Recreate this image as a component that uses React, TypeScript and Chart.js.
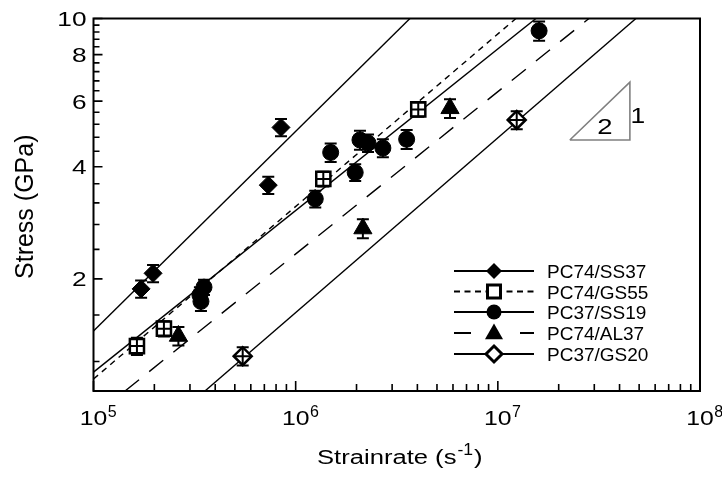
import React, { useEffect, useRef } from "react";
import { Chart, registerables } from "chart.js";

Chart.register(...registerables);

// ---------------- data ----------------
const seriesNames = ["PC74/SS37", "PC74/GS55", "PC37/SS19", "PC74/AL37", "PC37/GS20"];

// strain rate (1/s), stress (GPa), stress error (GPa)
const ss37Rate = [1.72e5, 1.97e5, 7.32e5, 8.46e5];
const ss37Stress = [1.88, 2.07, 3.57, 5.1];
const ss37Err = [0.1, 0.11, 0.19, 0.27];

const gs55Rate = [1.64e5, 2.23e5, 1.37e6, 4.04e6];
const gs55Stress = [1.32, 1.47, 3.71, 5.7];
const gs55Err = [0.07, 0.07, 0.17, 0.25];

const ss19Rate = [3.36e5, 3.4e5, 3.52e5, 1.25e6, 1.49e6, 1.97e6, 2.08e6, 2.28e6, 2.7e6, 3.54e6, 1.6e7];
const ss19Stress = [1.81, 1.74, 1.9, 3.28, 4.37, 3.86, 4.72, 4.63, 4.49, 4.74, 9.27];
const ss19Err = [0.09, 0.1, 0.09, 0.17, 0.25, 0.2, 0.28, 0.25, 0.25, 0.28, 0.55];

const al37Rate = [2.63e5, 2.15e6, 5.8e6];
const al37Stress = [1.405, 2.73, 5.74];
const al37Err = [0.08, 0.16, 0.33];

const gs20Rate = [5.47e5, 1.24e7];
const gs20Stress = [1.24, 5.34];
const gs20Err = [0.07, 0.3];

// fitted power-law lines (end points)
const fitSS37Rate = [1e5, 3.675e6];
const fitSS37Stress = [1.449, 10];
const fitGS55Rate = [1e5, 1.229e7];
const fitGS55Stress = [1.077, 10];
const fitSS19Rate = [1e5, 1.543e7];
const fitSS19Stress = [1.124, 10];
const fitAL37Rate = [1.432e5, 2.823e7];
const fitAL37Stress = [1, 10];
const fitGS20Rate = [3.559e5, 4.82e7];
const fitGS20Stress = [1, 10];

// slope triangle (2 : 1)
const triRate = [2.27e7, 4.5e7, 4.5e7, 2.27e7];
const triStress = [4.72, 4.72, 6.75, 4.72];
const triLabels = ["2", "1"];

// axes
const xMin = 1e5;
const xMax = 1e8;
const yMin = 1;
const yMax = 10;
const xDecades = [1e5, 1e6, 1e7, 1e8];
const xExponents = ["5", "6", "7", "8"];
const xMinorMult = [2, 3, 4, 5, 6, 7, 8, 9];
const yMajor = [2, 4, 6, 8, 10];
const yMajorLabels = ["2", "4", "6", "8", "10"];
const yMinor = [1.2, 1.6, 2.4, 2.8, 3.2, 3.6, 4.4, 4.8, 5.2, 5.6, 6.4, 6.8, 7.2, 7.6, 8.4, 8.8, 9.2, 9.6];
const xTitle = "Strainrate (s";
const xTitleSup = "-1";
const yTitle = "Stress (GPa)";

// ---------------- helpers ----------------
const FONT = '"Liberation Sans", Arial, Helvetica, sans-serif';

function txt(ctx: CanvasRenderingContext2D, s: string, x: number, y: number, size: number, sx: number, align: string) {
  ctx.save();
  ctx.font = `${size}px ${FONT}`;
  ctx.textBaseline = "alphabetic";
  ctx.textAlign = "left";
  const w = ctx.measureText(s).width * sx;
  const x0 = align === "left" ? x : align === "center" ? x - w / 2 : x - w;
  ctx.translate(x0, y);
  ctx.scale(sx, 1);
  ctx.fillStyle = "#000";
  ctx.fillText(s, 0, 0);
  ctx.restore();
  return w;
}

function marker(ctx: CanvasRenderingContext2D, style: string, x: number, y: number, r: number, open: boolean) {
  ctx.save();
  ctx.beginPath();
  if (style === "diamond") {
    ctx.moveTo(x, y - r);
    ctx.lineTo(x + r, y);
    ctx.lineTo(x, y + r);
    ctx.lineTo(x - r, y);
    ctx.closePath();
  } else if (style === "square") {
    ctx.rect(x - r, y - r, 2 * r, 2 * r);
  } else if (style === "circle") {
    ctx.arc(x, y, r, 0, Math.PI * 2);
  } else {
    ctx.moveTo(x, y - r);
    ctx.lineTo(x + r * 0.95, y + r * 0.65);
    ctx.lineTo(x - r * 0.95, y + r * 0.65);
    ctx.closePath();
  }
  if (open) {
    ctx.fillStyle = "#fff";
    ctx.fill();
    ctx.lineWidth = 3;
    ctx.strokeStyle = "#000";
    ctx.stroke();
  } else {
    ctx.fillStyle = "#000";
    ctx.fill();
  }
  ctx.restore();
}

const pts = (xs: number[], ys: number[]) => xs.map((x, i) => ({ x, y: ys[i] }));

export default function App() {
  const ref = useRef<HTMLCanvasElement>(null);

  useEffect(() => {
    const canvas = ref.current!;
    const ctx0 = canvas.getContext("2d")!;

    const markerDs = (label: string, xs: number[], ys: number[], errs: number[], style: any, r: number, open: boolean, hw: number) => ({
      label,
      data: pts(xs, ys),
      errors: errs,
      open,
      hw,
      showLine: false,
      pointStyle: style,
      pointRadius: r,
      pointHoverRadius: r,
      pointBackgroundColor: open ? "#fff" : "#000",
      pointBorderColor: "#000",
      pointBorderWidth: open ? 2.5 : 1,
      backgroundColor: open ? "#fff" : "#000",
      borderColor: "#000",
      order: 0,
    });

    const lineDs = (label: string, xs: number[], ys: number[], dash: number[], color = "#000", width = 1.4) => ({
      label,
      data: pts(xs, ys),
      showLine: true,
      borderColor: color,
      borderWidth: width,
      borderDash: dash,
      pointRadius: 0,
      pointHoverRadius: 0,
      fill: false,
      tension: 0,
      order: 1,
    });

    const datasets: any[] = [
      markerDs(seriesNames[0], ss37Rate, ss37Stress, ss37Err, "rectRot", 9, false, 0),
      markerDs(seriesNames[1], gs55Rate, gs55Stress, gs55Err, "rect", 10, true, 7),
      markerDs(seriesNames[2], ss19Rate, ss19Stress, ss19Err, "circle", 8, false, 0),
      markerDs(seriesNames[3], al37Rate, al37Stress, al37Err, "triangle", 10.5, false, 0),
      markerDs(seriesNames[4], gs20Rate, gs20Stress, gs20Err, "rectRot", 9, true, 8),
      lineDs(seriesNames[0] + " fit", fitSS37Rate, fitSS37Stress, []),
      lineDs(seriesNames[1] + " fit", fitGS55Rate, fitGS55Stress, [6, 5]),
      lineDs(seriesNames[2] + " fit", fitSS19Rate, fitSS19Stress, []),
      lineDs(seriesNames[3] + " fit", fitAL37Rate, fitAL37Stress, [18, 13]),
      lineDs(seriesNames[4] + " fit", fitGS20Rate, fitGS20Stress, []),
      lineDs("slope", triRate, triStress, [], "#808080", 1.6),
    ];

    const legendStyles = ["diamond", "square", "circle", "triangle", "diamond"];
    const legendOpen = [false, true, false, false, true];
    const legendSizes = [8, 6.5, 7.5, 9.5, 8];

    const framePlugin = {
      id: "frame",
      afterDatasetsDraw(chart: any) {
        const ctx: CanvasRenderingContext2D = chart.ctx;
        const a = chart.chartArea;
        const xs = chart.scales.x;
        const ys = chart.scales.y;
        ctx.save();
        ctx.strokeStyle = "#000";
        ctx.lineCap = "butt";

        // error bars
        chart.data.datasets.forEach((ds: any) => {
          if (!ds.errors) return;
          ds.data.forEach((p: any, j: number) => {
            const e = ds.errors[j];
            const px = xs.getPixelForValue(p.x);
            const py = ys.getPixelForValue(p.y);
            const t = ys.getPixelForValue(p.y + e);
            const b = ys.getPixelForValue(p.y - e);
            ctx.lineWidth = 2;
            ctx.beginPath();
            ctx.moveTo(px, t);
            ctx.lineTo(px, b);
            ctx.moveTo(px - 6, t);
            ctx.lineTo(px + 6, t);
            ctx.moveTo(px - 6, b);
            ctx.lineTo(px + 6, b);
            if (ds.open) {
              ctx.moveTo(px - ds.hw, py);
              ctx.lineTo(px + ds.hw, py);
            }
            ctx.stroke();
          });
        });

        // frame
        ctx.lineWidth = 2;
        ctx.strokeRect(a.left, a.top, a.right - a.left, a.bottom - a.top);

        // x ticks (inward)
        ctx.lineWidth = 1.6;
        ctx.beginPath();
        xDecades.forEach((d, i) => {
          const px = xs.getPixelForValue(d);
          ctx.moveTo(px, a.bottom);
          ctx.lineTo(px, a.bottom - 10);
          if (i < xDecades.length - 1) {
            xMinorMult.forEach((m) => {
              const q = xs.getPixelForValue(d * m);
              ctx.moveTo(q, a.bottom);
              ctx.lineTo(q, a.bottom - 7);
            });
          }
        });
        // y ticks
        yMajor.forEach((v) => {
          const py = ys.getPixelForValue(v);
          ctx.moveTo(a.left, py);
          ctx.lineTo(a.left + 9, py);
        });
        yMinor.forEach((v) => {
          const py = ys.getPixelForValue(v);
          ctx.moveTo(a.left, py);
          ctx.lineTo(a.left + 6, py);
        });
        ctx.stroke();

        // x tick labels
        xDecades.forEach((d, i) => {
          const px = xs.getPixelForValue(d);
          const w = txt(ctx, "10", px, a.bottom + 34, 21, 1.18, "center");
          txt(ctx, xExponents[i], px + w / 2 + 0.5, a.bottom + 26, 16, 1.0, "left");
        });
        // y tick labels
        yMajor.forEach((v, i) => {
          const py = ys.getPixelForValue(v);
          txt(ctx, yMajorLabels[i], a.left - 7, py + 7.5, 21, 1.25, "right");
        });

        // x title
        let tx = 317;
        tx += txt(ctx, xTitle, tx, a.bottom + 73, 20, 1.28, "left");
        tx += 1;
        tx += txt(ctx, xTitleSup, tx, a.bottom + 64, 16, 1.1, "left");
        txt(ctx, ")", tx + 1, a.bottom + 73, 20, 1.28, "left");

        // y title
        ctx.save();
        ctx.translate(33, (a.top + a.bottom) / 2 + 2);
        ctx.rotate(-Math.PI / 2);
        ctx.font = `25px ${FONT}`;
        ctx.textAlign = "center";
        ctx.textBaseline = "alphabetic";
        ctx.fillStyle = "#000";
        ctx.fillText(yTitle, 0, 0);
        ctx.restore();

        // slope triangle labels
        const bx = xs.getPixelForValue(triRate[1]);
        const by = ys.getPixelForValue(triStress[1]);
        const ty = ys.getPixelForValue(triStress[2]);
        txt(ctx, triLabels[0], bx - 25, by - 6, 22, 1.25, "center");
        txt(ctx, triLabels[1], bx + 8, (by + ty) / 2 + 12, 22, 1.2, "center");

        // legend
        const lx0 = a.right - 246;
        const lx1 = a.right - 166;
        const mx = a.right - 206;
        const rows = [271, 291.5, 312, 333, 354];
        seriesNames.forEach((name, i) => {
          const y = rows[i];
          ctx.save();
          ctx.strokeStyle = "#000";
          ctx.lineWidth = 2.2;
          ctx.beginPath();
          if (i === 1) {
            ctx.setLineDash([6, 4.5]);
            ctx.moveTo(lx0, y);
            ctx.lineTo(lx1, y);
          } else if (i === 3) {
            ctx.moveTo(lx0, y);
            ctx.lineTo(lx0 + 17, y);
            ctx.moveTo(lx1 - 14, y);
            ctx.lineTo(lx1, y);
          } else {
            ctx.moveTo(lx0, y);
            ctx.lineTo(lx1, y);
          }
          ctx.stroke();
          ctx.restore();
          marker(ctx, legendStyles[i], mx, y, legendSizes[i], legendOpen[i]);
          txt(ctx, name, a.right - 153, y + 7, 19, 1.0, "left");
        });

        ctx.restore();
      },
    };

    const chart = new Chart(ctx0, {
      type: "scatter",
      data: { datasets },
      options: {
        responsive: false,
        animation: false,
        devicePixelRatio: 1,
        layout: { autoPadding: false, padding: { left: 93.5, top: 18.5, right: 22, bottom: 86 } },
        plugins: { legend: { display: false }, tooltip: { enabled: false } },
        scales: {
          x: { type: "logarithmic", min: xMin, max: xMax, display: false },
          y: { type: "logarithmic", min: yMin, max: yMax, display: false },
        },
      } as any,
      plugins: [framePlugin],
    });

    return () => chart.destroy();
  }, []);

  return (
    <div style={{ position: "fixed", left: 0, top: 0, width: 722, height: 477, background: "#fff" }}>
      <canvas ref={ref} width={722} height={477} style={{ display: "block", width: 722, height: 477 }} />
    </div>
  );
}
